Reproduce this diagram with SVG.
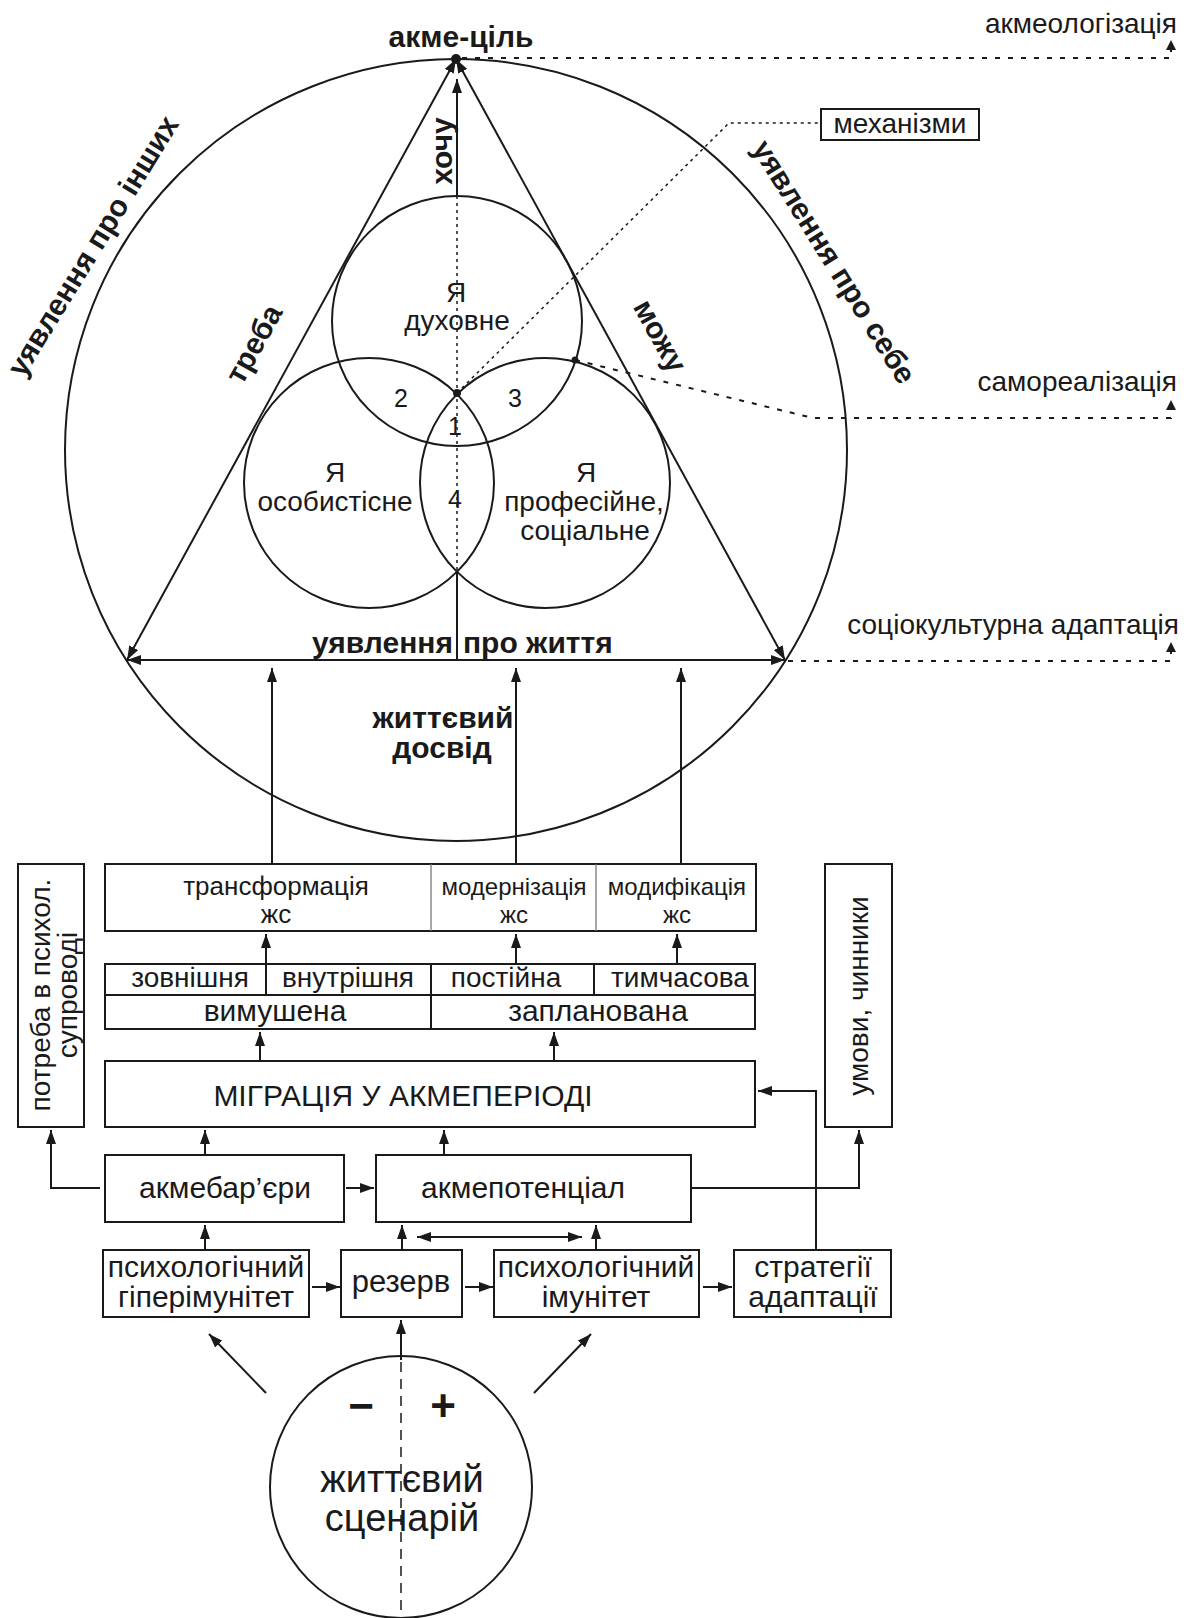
<svg xmlns="http://www.w3.org/2000/svg" width="1188" height="1618" viewBox="0 0 1188 1618">
<defs>
<style>
text{font-family:"Liberation Sans",Arial,sans-serif;fill:#1a1a1a}
.r{font-size:28px}
.t{font-size:30px}
.s{font-size:24px}
.v{font-size:28px}
.b{font-weight:bold;font-size:30px}
.m{text-anchor:middle}
.e{text-anchor:end}
.ln{stroke:#1a1a1a;stroke-width:2;fill:none}
.dash{stroke:#1a1a1a;stroke-width:2;fill:none;stroke-dasharray:5 8}
.dot{stroke:#1a1a1a;stroke-width:1.5;fill:none;stroke-dasharray:3 4}
.ld{stroke:#1a1a1a;stroke-width:1.5;fill:none;stroke-dasharray:10 7}
.box{fill:#fff;stroke:#1a1a1a;stroke-width:2}
.div{stroke:#777;stroke-width:1.3}
</style>
<marker id="ah" viewBox="0 0 14 10" refX="14" refY="5" markerWidth="14" markerHeight="10" markerUnits="userSpaceOnUse" orient="auto-start-reverse"><path d="M0,0 L14,5 L0,10 z" fill="#1a1a1a"/></marker>
<marker id="as" viewBox="0 0 10 10" refX="10" refY="5" markerWidth="10" markerHeight="10" markerUnits="userSpaceOnUse" orient="auto-start-reverse"><path d="M0,0 L10,5 L0,10 z" fill="#1a1a1a"/></marker>
</defs>
<rect width="1188" height="1618" fill="#fff"/>

<g id="big-circle">
<circle cx="456" cy="450" r="391" class="ln"/>
</g>

<g id="venn">
<circle id="ya-dukhovne" cx="457" cy="321" r="125" class="ln"/>
<circle id="ya-osobystisne" cx="369" cy="483" r="125" class="ln"/>
<circle id="ya-profesiine" cx="545" cy="483" r="125" class="ln"/>
</g>

<g id="connectors">
<line x1="456" y1="59" x2="127" y2="660" class="ln" marker-start="url(#ah)" marker-end="url(#ah)"/>
<line x1="456" y1="59" x2="785" y2="660" class="ln" marker-start="url(#ah)" marker-end="url(#ah)"/>
<line x1="127" y1="660" x2="785" y2="660" class="ln" marker-start="url(#ah)" marker-end="url(#ah)"/>
<line x1="457" y1="196" x2="457" y2="79" class="ln" marker-end="url(#ah)"/>
<line x1="457" y1="196" x2="457" y2="572" class="dot"/>
<line x1="457" y1="572" x2="457" y2="660" class="ln"/>
<path d="M462,58 H1171 V40" class="dash" marker-end="url(#as)"/>
<path d="M457,393 L729,123 H821" class="dot" stroke-width="2" stroke-dasharray="2 6"/>
<path d="M575,360 L813,418 H1171 V400" class="dash" marker-end="url(#as)"/>
<path d="M788,661 H1171 V642" class="dash" marker-end="url(#as)"/>
<line x1="272" y1="864" x2="272" y2="668" class="ln" marker-end="url(#ah)"/>
<line x1="516" y1="864" x2="516" y2="668" class="ln" marker-end="url(#ah)"/>
<line x1="681" y1="864" x2="681" y2="668" class="ln" marker-end="url(#ah)"/>
<line x1="266" y1="964" x2="266" y2="934" class="ln" marker-end="url(#ah)"/>
<line x1="516" y1="964" x2="516" y2="934" class="ln" marker-end="url(#ah)"/>
<line x1="677" y1="964" x2="677" y2="934" class="ln" marker-end="url(#ah)"/>
<line x1="260" y1="1061" x2="260" y2="1032" class="ln" marker-end="url(#ah)"/>
<line x1="554" y1="1061" x2="554" y2="1032" class="ln" marker-end="url(#ah)"/>
<line x1="205" y1="1155" x2="205" y2="1130" class="ln" marker-end="url(#ah)"/>
<line x1="444" y1="1155" x2="444" y2="1130" class="ln" marker-end="url(#ah)"/>
<line x1="346" y1="1188" x2="374" y2="1188" class="ln" marker-end="url(#ah)"/>
<path d="M100,1188 H51 V1130" class="ln" marker-end="url(#ah)"/>
<path d="M691,1188 H859 V1130" class="ln" marker-end="url(#ah)"/>
<path d="M816,1250 V1091 H758" class="ln" marker-end="url(#ah)"/>
<line x1="205" y1="1250" x2="205" y2="1225" class="ln" marker-end="url(#ah)"/>
<line x1="402" y1="1250" x2="402" y2="1225" class="ln" marker-end="url(#ah)"/>
<line x1="596" y1="1250" x2="596" y2="1225" class="ln" marker-end="url(#ah)"/>
<line x1="417" y1="1237" x2="582" y2="1237" class="ln" marker-start="url(#ah)" marker-end="url(#ah)"/>
<line x1="312" y1="1287" x2="340" y2="1287" class="ln" marker-end="url(#ah)"/>
<line x1="465" y1="1287" x2="493" y2="1287" class="ln" marker-end="url(#ah)"/>
<line x1="703" y1="1287" x2="732" y2="1287" class="ln" marker-end="url(#ah)"/>
<line x1="401" y1="1360" x2="401" y2="1320" class="ln" marker-end="url(#ah)"/>
<line x1="266" y1="1393" x2="209" y2="1334" class="ln" marker-end="url(#ah)"/>
<line x1="534" y1="1393" x2="591" y2="1334" class="ln" marker-end="url(#ah)"/>
</g>

<g id="points">
<circle cx="456" cy="59" r="5" fill="#1a1a1a"/>
<circle cx="457" cy="393" r="4" fill="#1a1a1a"/>
<circle cx="575" cy="360" r="3.5" fill="#1a1a1a"/>
</g>

<g id="top-labels">
<text x="461" y="47" class="b m">акме-ціль</text>
<text x="1177" y="33" class="r e">акмеологізація</text>
<text x="1177" y="391" class="r e">самореалізація</text>
<text x="1179" y="634" class="r e">соціокультурна адаптація</text>
<text transform="translate(93,246) rotate(-58.5)" y="10" class="b m">уявлення про інших</text>
<text transform="translate(834,262) rotate(58)" y="10" class="b m" font-size="31">уявлення про себе</text>
<text transform="translate(254,344) rotate(-61)" y="10" class="b m">треба</text>
<text transform="translate(660,336) rotate(61)" y="10" class="b m">можу</text>
<text transform="translate(441,151) rotate(-90)" y="11" class="b m" font-size="32">хочу</text>
<text y="653" class="b"><tspan x="312">уявлення </tspan><tspan x="463">про життя</tspan></text>
<text x="443" y="728" class="b m">життєвий</text>
<text x="442" y="758" class="b m">досвід</text>
</g>

<g id="mekhanizmy">
<rect x="821" y="109" width="158" height="31" class="box"/>
<text x="900" y="133" class="r m">механізми</text>
</g>

<g id="venn-labels">
<text x="456" y="302" class="v m">Я</text>
<text x="457" y="330" class="v m">духовне</text>
<text x="335" y="482" class="v m">Я</text>
<text x="335" y="511" class="v m">особистісне</text>
<text x="586" y="482" class="v m">Я</text>
<text x="584" y="511" class="v m">професійне,</text>
<text x="585" y="540" class="v m">соціальне</text>
<text x="401" y="407" class="m" font-size="25">2</text>
<text x="515" y="407" class="m" font-size="25">3</text>
<text x="455" y="435" class="m" font-size="25">1</text>
<text x="455" y="508" class="m" font-size="25">4</text>
</g>

<g id="potreba">
<rect x="18" y="864" width="66" height="263" class="box"/>
<text transform="translate(50,995) rotate(-90)" class="r m">потреба в психол.</text>
<text transform="translate(77,995) rotate(-90)" class="r m">супроводі</text>
</g>

<g id="umovy">
<rect x="825" y="864" width="67" height="263" class="box"/>
<text transform="translate(868,996) rotate(-90)" class="r m">умови, чинники</text>
</g>

<g id="table-zs">
<rect x="105" y="864" width="651" height="67" class="box"/>
<line x1="431" y1="864" x2="431" y2="931" class="div"/>
<line x1="596" y1="864" x2="596" y2="931" class="div"/>
<text x="276" y="895" class="m" font-size="26">трансформація</text>
<text x="276" y="923" class="m" font-size="26">жс</text>
<text x="514" y="895" class="s m">модернізація</text>
<text x="514" y="923" class="s m">жс</text>
<text x="677" y="895" class="s m">модифікація</text>
<text x="677" y="923" class="s m">жс</text>
</g>

<g id="table-migration-types">
<rect x="105" y="964" width="650" height="65" class="box"/>
<line x1="105" y1="995" x2="755" y2="995" class="ln"/>
<line x1="431" y1="964" x2="431" y2="1029" class="ln"/>
<line x1="266" y1="964" x2="266" y2="995" class="ln"/>
<line x1="594" y1="964" x2="594" y2="995" class="ln"/>
<text x="190" y="987" class="r m">зовнішня</text>
<text x="348" y="987" class="r m">внутрішня</text>
<text x="506" y="987" class="r m">постійна</text>
<text x="680" y="987" class="r m">тимчасова</text>
<text x="275" y="1021" class="t m">вимушена</text>
<text x="598" y="1021" class="t m">запланована</text>
</g>

<g id="migratsiia">
<rect x="105" y="1061" width="650" height="66" class="box"/>
<text x="403" y="1106" class="t m">МІГРАЦІЯ У АКМЕПЕРІОДІ</text>
</g>

<g id="akmebariery">
<rect x="105" y="1155" width="239" height="67" class="box"/>
<text x="225" y="1198" class="t m">акмебар’єри</text>
</g>

<g id="akmepotentsial">
<rect x="376" y="1155" width="315" height="67" class="box"/>
<text x="523" y="1198" class="t m">акмепотенціал</text>
</g>

<g id="hiperimunitet">
<rect x="103" y="1250" width="206" height="67" class="box"/>
<text x="206" y="1277" class="t m">психологічний</text>
<text x="206" y="1307" class="t m">гіперімунітет</text>
</g>

<g id="rezerv">
<rect x="341" y="1250" width="121" height="67" class="box"/>
<text x="401" y="1292" class="m" font-size="31">резерв</text>
</g>

<g id="imunitet">
<rect x="494" y="1250" width="205" height="67" class="box"/>
<text x="596" y="1277" class="t m">психологічний</text>
<text x="596" y="1307" class="t m">імунітет</text>
</g>

<g id="stratehii">
<rect x="734" y="1250" width="157" height="67" class="box"/>
<text x="813" y="1277" class="t m">стратегії</text>
<text x="813" y="1307" class="t m">адаптації</text>
</g>

<g id="zhyttievyi-stsenarii">
<circle cx="401" cy="1487" r="131" class="ln"/>
<line x1="401" y1="1362" x2="401" y2="1618" class="ld"/>
<text x="361" y="1421" class="m" font-size="44" font-weight="bold">−</text>
<text x="443" y="1421" class="m" font-size="44" font-weight="bold">+</text>
<text x="402" y="1492" class="m" font-size="38">життєвий</text>
<text x="402" y="1531" class="m" font-size="38">сценарій</text>
</g>
</svg>
